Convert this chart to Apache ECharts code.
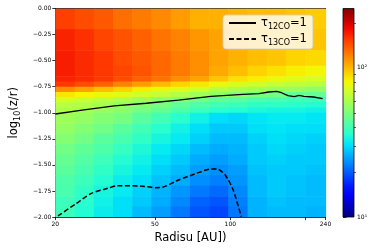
<!DOCTYPE html>
<html><head><meta charset="utf-8">
<script src="https://cdn.jsdelivr.net/npm/echarts@6/dist/echarts.min.js"></script>
<style>html,body{margin:0;padding:0;background:#fff}#c{width:374px;height:249px}</style>
</head><body><div id="c"></div>
<script>
// ---- data ----
// radial cell edges [AU]
const radiusEdgesAU = [20, 23.9, 28.5, 34.0, 40.6, 48.4, 57.8, 69.0, 82.3, 98.2, 117.2, 139.9, 166.9, 199.2, 240];
// log10(z/r) cell edges
const heightEdges = [0, -0.2, -0.4, -0.55, -0.65, -0.7, -0.75, -0.8, -0.85, -0.9, -0.95, -1.0, -1.1, -1.2, -1.3, -1.4, -1.5, -1.6, -1.7, -1.8, -1.9, -2.0];
// log10 of the colour-coded quantity, one row per height band (top to bottom), one value per radial column
const log10T = [
  [2.18,2.16,2.14,2.11,2.09,2.07,2.04,2.01,2.01,2.00,1.99,1.99,1.98,1.97],
  [2.22,2.20,2.17,2.15,2.13,2.10,2.08,2.05,2.03,2.01,2.00,1.99,1.99,1.98],
  [2.23,2.21,2.19,2.16,2.14,2.12,2.09,2.06,2.03,2.01,1.99,1.98,1.96,1.95],
  [2.23,2.21,2.19,2.17,2.15,2.12,2.09,2.06,2.02,1.99,1.96,1.94,1.92,1.90],
  [2.22,2.21,2.19,2.16,2.13,2.10,2.06,2.03,1.98,1.94,1.92,1.89,1.87,1.85],
  [2.19,2.16,2.13,2.08,2.04,2.00,1.96,1.93,1.89,1.86,1.84,1.82,1.81,1.80],
  [2.06,2.03,1.99,1.96,1.92,1.89,1.87,1.84,1.80,1.78,1.77,1.75,1.75,1.73],
  [1.93,1.91,1.89,1.87,1.84,1.82,1.79,1.76,1.73,1.71,1.69,1.68,1.66,1.66],
  [1.85,1.83,1.81,1.79,1.76,1.73,1.71,1.68,1.65,1.64,1.62,1.61,1.60,1.59],
  [1.80,1.79,1.77,1.74,1.71,1.69,1.65,1.62,1.60,1.59,1.57,1.57,1.56,1.55],
  [1.78,1.77,1.75,1.72,1.69,1.66,1.62,1.59,1.56,1.55,1.54,1.53,1.53,1.52],
  [1.76,1.74,1.71,1.69,1.64,1.60,1.56,1.52,1.48,1.47,1.49,1.50,1.50,1.49],
  [1.74,1.71,1.68,1.64,1.60,1.56,1.52,1.48,1.45,1.45,1.48,1.49,1.48,1.48],
  [1.71,1.68,1.64,1.61,1.57,1.53,1.50,1.46,1.43,1.43,1.46,1.48,1.47,1.46],
  [1.68,1.65,1.62,1.58,1.54,1.50,1.47,1.43,1.41,1.42,1.45,1.47,1.46,1.45],
  [1.66,1.63,1.59,1.55,1.52,1.48,1.45,1.41,1.39,1.41,1.45,1.46,1.45,1.45],
  [1.64,1.61,1.57,1.53,1.50,1.46,1.43,1.39,1.37,1.39,1.44,1.45,1.45,1.44],
  [1.62,1.59,1.55,1.51,1.48,1.44,1.41,1.37,1.35,1.38,1.43,1.45,1.44,1.43],
  [1.61,1.57,1.53,1.50,1.46,1.42,1.38,1.34,1.32,1.36,1.43,1.45,1.44,1.43],
  [1.59,1.56,1.52,1.48,1.45,1.41,1.36,1.31,1.29,1.35,1.42,1.44,1.43,1.43],
  [1.59,1.55,1.51,1.48,1.43,1.39,1.34,1.29,1.27,1.34,1.42,1.43,1.43,1.42]
];
// tau = 1 surfaces
const tau12CO_AU   = [20, 25.6, 34.4, 46.2, 62.1, 83.6, 112.3, 130.2, 142.3, 153.2, 160.1, 169.9, 180.1, 188.3, 196.8, 215.1, 233.8];
const tau12CO_zr   = [-1.012, -0.974, -0.935, -0.909, -0.878, -0.842, -0.823, -0.817, -0.801, -0.794, -0.808, -0.836, -0.846, -0.833, -0.842, -0.849, -0.865];
const tau13CO_AU   = [20.5, 24.1, 27.9, 32.4, 35.4, 43.6, 50.5, 53.6, 62.1, 72.1, 83.6, 88.6, 95.4, 102.7, 110.6];
const tau13CO_zr   = [-1.99, -1.875, -1.773, -1.725, -1.700, -1.703, -1.719, -1.715, -1.645, -1.588, -1.540, -1.540, -1.597, -1.741, -1.997];
// axes
const radiusMin = 20, radiusMax = 240;
const radiusTickLabels = [20, 50, 100, 240];
const radiusTicks = [20, 50, 100, 200, 240];
const colorMin = 10, colorMax = 250;
const colorMajorTicks = [10, 100];
const colorMinorTicks = [20, 30, 40, 50, 60, 70, 80, 90, 200];

// ---- chart ----
const L = Math.log10;
const jet = ['#000080','#0000b9','#0000f3','#001aff','#004dff','#0080ff','#00b3ff','#00e6f7','#29ffce','#52ffa4','#7dff7a','#a4ff52','#ceff29','#f7f600','#ffc600','#ff9700','#ff6800','#ff3900','#f30900','#b90000','#800000'];
const FONT = 'DejaVu Sans';

const cells = [];
for (let r = 0; r < log10T.length; r++) {
  for (let c = 0; c < log10T[r].length; c++) {
    cells.push([L(radiusEdgesAU[c]), L(radiusEdgesAU[c + 1]), heightEdges[r], heightEdges[r + 1], log10T[r][c]]);
  }
}
const line12 = tau12CO_AU.map((a, i) => [L(a), tau12CO_zr[i]]);
const line13 = tau13CO_AU.map((a, i) => [L(a), tau13CO_zr[i]]);

const xMin = L(radiusMin), xMax = L(radiusMax);
const cMin = L(colorMin), cMax = L(colorMax);

const chart = echarts.init(document.getElementById('c'), null, {renderer: 'canvas'});
const tickLbl = {fontFamily: FONT, fontSize: 6, color: '#000'};
const mainTxt = {fontFamily: FONT, fontSize: 11.5, color: '#000', lineHeight: 16};
const subTxt = {fontFamily: FONT, fontSize: 8, color: '#000', lineHeight: 8, verticalAlign: 'bottom'};

chart.setOption({
  animation: false,
  backgroundColor: '#fff',
  textStyle: {fontFamily: FONT},
  grid: [
    {left: 45.5, top: 8.5, width: 280, height: 208.5, containLabel: false},
    {left: 343, top: 8.5, width: 11, height: 208.5, containLabel: false}
  ],
  visualMap: {
    type: 'continuous', show: false, seriesIndex: 0, dimension: 4,
    min: cMin, max: cMax, inRange: {color: jet}
  },
  xAxis: [
    {type: 'value', gridIndex: 0, min: xMin, max: xMax, position: 'bottom',
     name: 'Radisu [AU])', nameLocation: 'middle', nameGap: 14,
     nameTextStyle: {fontFamily: FONT, fontSize: 11.5, color: '#000'},
     axisLine: {show: true, onZero: false, lineStyle: {color: '#000', width: 0.8}},
     axisTick: {show: true, length: 3, lineStyle: {color: '#000', width: 0.8}, customValues: radiusTicks.map(L)},
     axisLabel: Object.assign({margin: 4, customValues: radiusTickLabels.map(L), formatter: v => String(Math.round(Math.pow(10, v)))}, tickLbl),
     splitLine: {show: false}},
    {type: 'value', gridIndex: 0, min: xMin, max: xMax, position: 'top',
     axisLine: {show: true, onZero: false, lineStyle: {color: '#000', width: 0.8}},
     axisTick: {show: false}, axisLabel: {show: false}, splitLine: {show: false}},
    {type: 'value', gridIndex: 1, min: 0, max: 1, show: false}
  ],
  yAxis: [
    {type: 'value', gridIndex: 0, min: -2, max: 0, interval: 0.25, position: 'left',
     name: '{a|log}{b|10}{a|(z/r)}', nameLocation: 'middle', nameGap: 33, nameRotate: 90,
     nameTextStyle: {rich: {a: mainTxt, b: subTxt}},
     axisLine: {show: true, onZero: false, lineStyle: {color: '#000', width: 0.8}},
     axisTick: {show: true, length: 3, lineStyle: {color: '#000', width: 0.8}},
     axisLabel: Object.assign({margin: 4, formatter: v => (v < 0 ? '\u2212' : '') + Math.abs(v).toFixed(2)}, tickLbl),
     splitLine: {show: false}},
    {type: 'value', gridIndex: 0, min: -2, max: 0, position: 'right',
     axisLine: {show: true, onZero: false, lineStyle: {color: '#000', width: 0.8}},
     axisTick: {show: false}, axisLabel: {show: false}, splitLine: {show: false}},
    {type: 'value', gridIndex: 1, min: cMin, max: cMax, position: 'right',
     axisLine: {show: false},
     axisTick: {show: true, length: 3.5, lineStyle: {color: '#000', width: 0.8}, customValues: colorMajorTicks.map(L)},
     axisLabel: Object.assign({margin: 3, customValues: colorMajorTicks.map(L),
       formatter: v => (Math.round(v) === 1 ? '10\u00b9' : '10\u00b2')}, tickLbl),
     splitLine: {show: false}},
    {type: 'value', gridIndex: 1, min: cMin, max: cMax, position: 'right',
     axisLine: {show: false},
     axisTick: {show: true, length: 2, lineStyle: {color: '#000', width: 0.6}, customValues: colorMinorTicks.map(L)},
     axisLabel: {show: false}, splitLine: {show: false}}
  ],
  legend: {
    show: true, orient: 'vertical', left: 223, top: 15,
    padding: [2, 6, 2, 5], itemWidth: 27, itemHeight: 14, itemGap: 2,
    backgroundColor: 'rgba(255,255,255,0.8)', borderColor: '#cccccc', borderWidth: 0.8, borderRadius: 3,
    itemStyle: {color: 'rgba(0,0,0,0)', borderColor: 'rgba(0,0,0,0)', borderWidth: 0},
    data: ['tau12', 'tau13'],
    formatter: n => n === 'tau12' ? '{t|\u03c4}{s|12CO}{t|=1}' : '{t|\u03c4}{s|13CO}{t|=1}',
    textStyle: {rich: {t: mainTxt, s: subTxt}}
  },
  series: [
    {type: 'custom', xAxisIndex: 0, yAxisIndex: 0, clip: true, silent: true,
     encode: {x: [0, 1], y: [2, 3]},
     data: cells,
     renderItem: (params, api) => {
       const a = api.coord([api.value(0), api.value(2)]);
       const b = api.coord([api.value(1), api.value(3)]);
       return {type: 'rect',
         shape: {x: Math.min(a[0], b[0]), y: Math.min(a[1], b[1]), width: Math.abs(b[0] - a[0]) + 0.6, height: Math.abs(b[1] - a[1]) + 0.6},
         style: {fill: api.visual('color')}};
     }, z: 1},
    {type: 'custom', xAxisIndex: 2, yAxisIndex: 2, silent: true,
     data: [[0.5, 1.5]],
     renderItem: (params) => {
       const cs = params.coordSys;
       return {type: 'rect', shape: {x: cs.x, y: cs.y, width: cs.width, height: cs.height},
         style: {fill: {type: 'linear', x: 0, y: 1, x2: 0, y2: 0,
           colorStops: jet.map((c, i) => ({offset: i / (jet.length - 1), color: c}))},
           stroke: '#000', lineWidth: 0.8}};
     }},
    {name: 'tau12', type: 'line', xAxisIndex: 0, yAxisIndex: 0, data: line12,
     symbol: 'none', color: '#000', lineStyle: {color: '#000', width: 1.3}, z: 5},
    {name: 'tau13', type: 'line', xAxisIndex: 0, yAxisIndex: 0, data: line13, smooth: 0.25,
     symbol: 'none', color: '#000', lineStyle: {color: '#000', width: 1.5, type: [5, 2.5]}, z: 5}
  ]
});
</script></body></html>
